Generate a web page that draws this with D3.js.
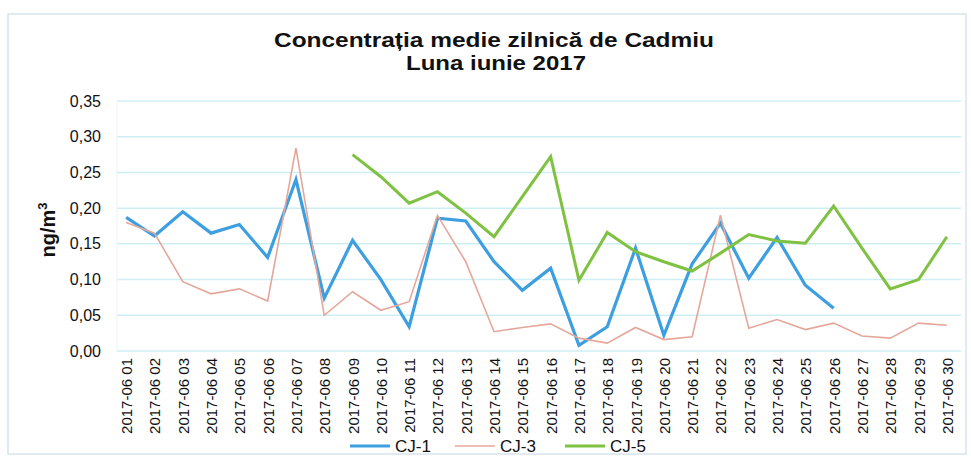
<!DOCTYPE html>
<html>
<head>
<meta charset="utf-8">
<script src="https://cdn.jsdelivr.net/npm/d3@7"></script>
<style>
  body { margin: 0; background: #fff; }
  text { font-family: "Liberation Sans", Arial, sans-serif; fill: #111; }
  .title { font-size: 21px; font-weight: bold; }
  .y.axis text { font-size: 16px; }
  .x.axis text { font-size: 15px; }
  .axis path, .axis line { display: none; }
</style>
</head>
<body>
<script>
// Data
const days = ['01','02','03','04','05','06','07','08','09','10','11','12','13','14','15',
  '16','17','18','19','20','21','22','23','24','25','26','27','28','29','30'];

const cj1 = [0.187, 0.161, 0.195, 0.165, 0.177, 0.131, 0.240, 0.074, 0.155, 0.100,
  0.034, 0.186, 0.182, 0.125, 0.085, 0.116, 0.008, 0.034, 0.144, 0.022,
  0.122, 0.179, 0.102, 0.159, 0.092, 0.060, null, null, null, null];

const cj3 = [0.180, 0.165, 0.097, 0.080, 0.087, 0.070, 0.284, 0.050, 0.083, 0.057,
  0.069, 0.190, 0.125, 0.027, 0.033, 0.038, 0.018, 0.011, 0.033, 0.016,
  0.020, 0.190, 0.032, 0.044, 0.030, 0.039, 0.021, 0.018, 0.039, 0.036];

const cj5 = [null, null, null, null, null, null, null, null, 0.275, 0.244,
  0.207, 0.223, 0.193, 0.160, 0.216, 0.272, 0.099, 0.166, 0.139, 0.125,
  0.112, 0.137, 0.163, 0.154, 0.151, 0.203, 0.144, 0.087, 0.100, 0.160];

const yTicks = [0, 0.05, 0.10, 0.15, 0.20, 0.25, 0.30, 0.35];

const series = [
  { name: 'CJ-1', values: cj1, color: '#3d9fe0', width: 3.2 },
  { name: 'CJ-3', values: cj3, color: '#e5a79a', width: 1.6 },
  { name: 'CJ-5', values: cj5, color: '#7fc141', width: 3 }
];

const width = 971, height = 461;
const plot = { left: 112, right: 961, top: 101, bottom: 351 };

const svg = d3.select('body')
  .append('svg')
  .attr('width', width)
  .attr('height', height);

// chart frame
svg.append('rect')
  .attr('x', 8).attr('y', 14)
  .attr('width', 958).attr('height', 440)
  .attr('fill', 'none')
  .attr('stroke', '#d8e4ee')
  .attr('stroke-width', 1.5);

const x = d3.scalePoint()
  .domain(days)
  .range([plot.left, plot.right])
  .padding(0.5);

const y = d3.scaleLinear()
  .domain([0, 0.35])
  .range([plot.bottom, plot.top]);

// grid
svg.append('g')
  .selectAll('line')
  .data(yTicks)
  .enter()
  .append('line')
  .attr('x1', plot.left + 5)
  .attr('x2', plot.right)
  .attr('y1', d => y(d))
  .attr('y2', d => y(d))
  .attr('stroke', '#cdeff3')
  .attr('stroke-width', 1.5);

svg.append('line')
  .attr('x1', plot.left + 5).attr('x2', plot.left + 5)
  .attr('y1', plot.top).attr('y2', plot.bottom)
  .attr('stroke', '#eef4f6');

const yAxis = d3.axisLeft(y)
  .tickValues(yTicks)
  .tickSize(0)
  .tickPadding(0)
  .tickFormat(d => d3.format('.2f')(d).replace('.', ','));

svg.append('g')
  .attr('class', 'y axis')
  .attr('transform', 'translate(101, 0)')
  .call(yAxis);

const xAxis = d3.axisBottom(x)
  .tickSize(0)
  .tickFormat(d => '2017-06 ' + d);

svg.append('g')
  .attr('class', 'x axis')
  .attr('transform', `translate(0, ${plot.bottom})`)
  .call(xAxis)
  .selectAll('text')
  .attr('transform', 'rotate(-90)')
  .attr('text-anchor', 'end')
  .attr('dominant-baseline', 'central')
  .attr('x', -7)
  .attr('y', 0)
  .attr('dy', null);

// lines
const line = d3.line()
  .defined(d => d != null)
  .x((d, i) => x(days[i]))
  .y(d => y(d));

series.forEach(s => {
  svg.append('path')
    .datum(s.values)
    .attr('fill', 'none')
    .attr('stroke', s.color)
    .attr('stroke-width', s.width)
    .attr('stroke-linejoin', 'miter')
    .attr('d', line);
});

// titles
svg.append('text')
  .attr('class', 'title')
  .attr('x', 494).attr('y', 47)
  .attr('text-anchor', 'middle')
  .attr('textLength', 440)
  .attr('lengthAdjust', 'spacingAndGlyphs')
  .text('Concentrația medie zilnică de Cadmiu');

svg.append('text')
  .attr('class', 'title')
  .attr('x', 496).attr('y', 70)
  .attr('text-anchor', 'middle')
  .attr('textLength', 180)
  .attr('lengthAdjust', 'spacingAndGlyphs')
  .text('Luna iunie 2017');

svg.append('text')
  .attr('transform', 'translate(55, 230) rotate(-90)')
  .attr('text-anchor', 'middle')
  .style('font-size', '20px')
  .style('font-weight', 'bold')
  .html('ng/m<tspan dy="-8" font-size="13">3</tspan>');

// legend
const legendX = [350, 455, 565];
const legend = svg.append('g');
series.forEach((s, i) => {
  legend.append('line')
    .attr('x1', legendX[i]).attr('x2', legendX[i] + 40)
    .attr('y1', 446).attr('y2', 446)
    .attr('stroke', s.color)
    .attr('stroke-width', s.width);
  legend.append('text')
    .attr('x', legendX[i] + 45)
    .attr('y', 446)
    .attr('dominant-baseline', 'central')
    .style('font-size', '17px')
    .text(s.name);
});
</script>
</body>
</html>
